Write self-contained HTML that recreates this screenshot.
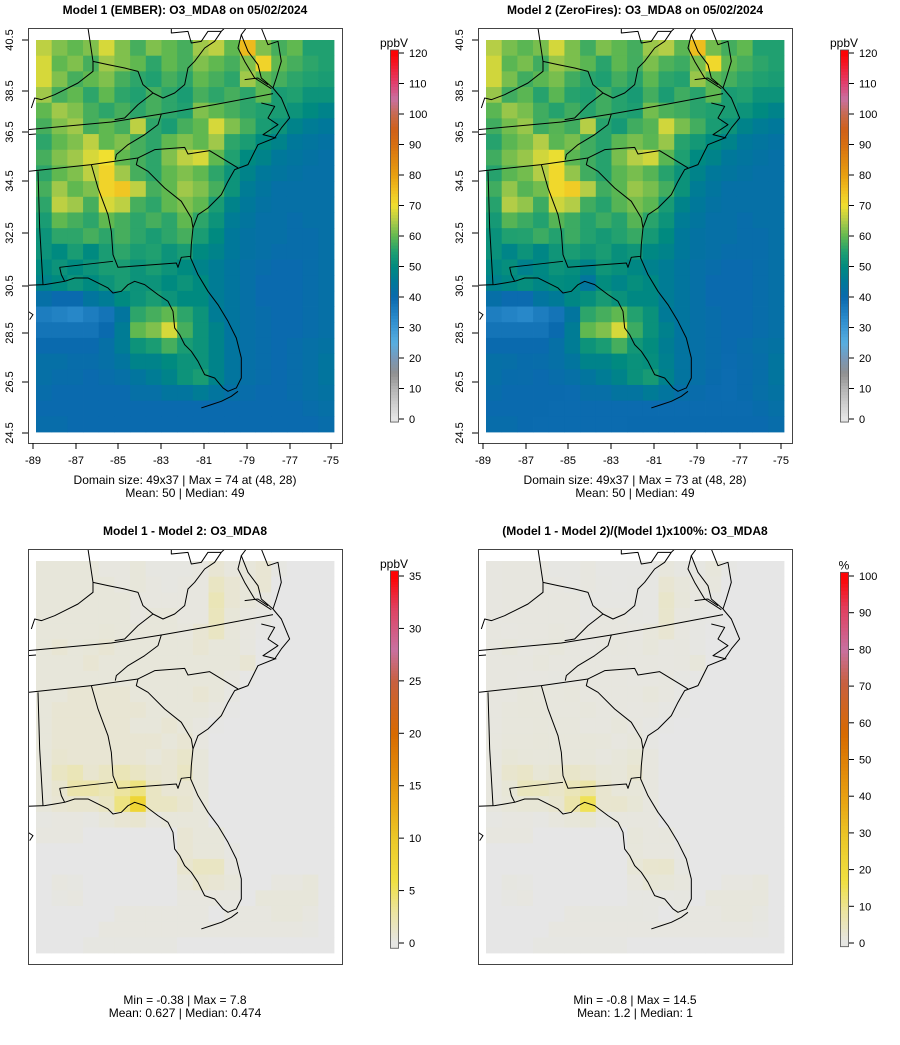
<!DOCTYPE html>
<html><head><meta charset="utf-8">
<style>
html,body{margin:0;padding:0;background:#fff;}
svg{display:block;font-family:"Liberation Sans",sans-serif;}
</style></head>
<body>
<svg id="root" width="900" height="1045" viewBox="0 0 900 1045" xmlns="http://www.w3.org/2000/svg"></svg>
<script>
// ===== data (25 rows x 19 cols, north to south, west to east) =====
const model1Rows = [
[66,62,60,62,68,62,58,62,60,58,64,66,60,76,62,58,60,55,55],
[68,60,62,58,64,62,60,56,60,58,62,60,58,62,72,60,58,56,55],
[68,62,58,60,62,58,56,55,58,56,60,58,56,64,60,58,56,55,54],
[64,58,60,56,60,56,55,58,56,54,58,56,58,56,60,54,55,52,52],
[60,64,62,58,56,58,56,58,56,55,62,60,58,56,55,54,52,50,48],
[58,62,64,58,60,58,66,56,54,58,60,68,62,58,54,52,48,46,45],
[56,60,62,66,60,62,58,56,60,62,60,64,56,54,50,48,45,44,43],
[58,62,64,68,70,60,58,56,62,66,68,60,55,50,48,45,44,43,42],
[56,60,62,66,72,64,58,56,60,62,60,56,52,48,45,44,43,42,42],
[58,64,60,62,72,74,66,58,60,64,62,58,52,46,44,42,42,42,42],
[56,66,64,58,68,66,58,56,60,62,60,54,48,45,43,42,42,42,42],
[54,60,58,56,60,58,56,58,56,60,56,52,46,44,42,42,41,42,42],
[52,56,56,58,56,58,56,54,56,58,54,50,45,43,42,42,41,41,42],
[52,50,54,50,54,56,54,55,52,54,50,48,45,43,42,41,41,41,42],
[50,52,50,52,54,54,52,54,52,50,48,46,44,42,41,40,40,41,42],
[48,50,52,50,52,54,52,52,50,52,50,46,44,42,40,40,40,41,42],
[42,40,40,44,46,50,52,54,52,50,50,46,44,42,40,40,40,41,42],
[36,35,34,36,38,44,56,58,60,56,52,46,44,42,41,40,40,41,42],
[38,38,38,38,40,46,60,62,68,58,52,48,44,42,41,40,40,41,42],
[40,40,40,40,42,46,52,54,58,54,52,48,44,42,41,40,41,42,43],
[42,42,41,41,42,44,48,48,50,52,52,48,44,42,41,40,41,42,44],
[42,41,41,40,41,42,44,46,48,52,54,48,44,42,41,40,41,42,44],
[41,40,40,40,40,40,42,42,44,44,46,44,42,41,40,40,41,42,43],
[40,40,40,40,40,40,40,40,40,40,40,40,40,40,40,40,40,41,42],
[41,41,40,40,40,40,40,40,40,40,40,40,40,40,40,40,40,40,41]
];
const diffRows = [
[.5,.5,.5,.5,.3,.3,.5,.2,.2,.2,.3,.8,.4,.5,.8,.2,0,0,0],
[.5,.5,.5,.5,.5,.3,.5,.3,.2,.3,.3,1.5,.8,.5,.8,0,0,0,0],
[.5,.5,.5,.5,.5,.5,.3,.3,.3,.3,.3,2,.8,.5,.3,0,0,0,0],
[.5,.5,.5,.5,.5,.5,.3,.5,.5,.3,.3,1.8,.6,.3,.2,0,0,0,0],
[.5,.5,.5,.5,.6,.5,.5,.5,.5,.4,.8,1.5,.5,.3,.1,0,0,0,0],
[.5,.8,.5,.6,.8,.5,.5,.5,.5,.5,.8,.5,.5,.3,0,0,0,0,0],
[.5,.5,.5,.8,.5,.5,.5,.5,.5,.5,.5,.5,.5,.8,0,0,0,0,0],
[.5,.5,.5,.5,.5,.5,.5,.5,.5,.5,.5,.5,.3,.1,0,0,0,0,0],
[.5,.5,.8,.8,.8,.8,.5,.5,.5,.5,.8,.5,.2,0,0,0,0,0,0],
[.5,.8,.8,.8,.8,.8,.8,.5,.5,.5,.5,.3,.1,0,0,0,0,0,0],
[.5,.8,.8,.8,.8,.8,.5,.5,.8,.5,.3,.1,0,0,0,0,0,0,0],
[.5,.8,.8,.8,.8,.8,.8,.8,.5,.8,.3,0,0,0,0,0,0,0,0],
[.5,1,.8,.8,.8,.8,.8,.5,.8,1.2,.5,0,0,0,0,0,0,0,0],
[.5,1.5,2,1,1.5,2,1.5,1,.8,1.5,.5,0,0,0,0,0,0,0,0],
[.5,1,2.5,2.5,2,3,4,1.5,.8,.8,.5,0,0,0,0,0,0,0,0],
[.5,.8,1,1,1.5,4,7.8,1.5,1.5,1,.5,0,0,0,0,0,0,0,0],
[.2,.3,.3,.2,.5,.8,1,.3,.5,.5,.5,0,0,0,0,0,0,0,0],
[.3,.3,.3,0,0,0,0,0,0,.8,.5,.5,0,0,0,0,0,0,0],
[0,0,0,0,0,0,0,0,0,.8,.5,.5,.2,0,0,0,0,0,0],
[0,0,0,0,0,0,0,0,0,1,1.5,1.5,.3,0,0,0,0,0,0],
[0,.3,.2,0,0,0,0,0,0,.5,1,.8,.5,0,0,.3,.3,.5,0],
[0,.2,.3,0,0,0,0,0,0,.3,.3,.3,.3,0,.5,.5,.5,.5,0],
[0,0,0,0,0,.3,.3,.3,.3,.3,.3,0,.3,.3,.3,.5,.5,.3,0],
[0,0,0,0,.3,.3,.3,.3,.3,.3,.3,.3,.3,.3,.3,.3,.3,.2,0],
[0,0,0,.2,.2,.2,.2,.2,.2,0,0,0,0,0,0,0,0,0,0]
];
const lonTicks = ["-89","-87","-85","-83","-81","-79","-77","-75"];
const latTicks = ["40.5","38.5","36.5","34.5","32.5","30.5","28.5","26.5","24.5"];
const concTicks = [0,10,20,30,40,50,60,70,80,90,100,110,120];
const diffTicks = [0,5,10,15,20,25,30,35];
const pctTicks = [0,10,20,30,40,50,60,70,80,90,100];

// derived fields
const model2Rows = model1Rows.map((r,i)=>r.map((v,j)=>v - diffRows[i][j]));
const pctRows = model1Rows.map((r,i)=>r.map((v,j)=>diffRows[i][j]/v*100));

// ===== helpers =====
const NS="http://www.w3.org/2000/svg";
const root=document.getElementById('root');
function mk(tag,attrs,parent){const e=document.createElementNS(NS,tag);for(const k in attrs)e.setAttribute(k,attrs[k]);(parent||root).appendChild(e);return e;}
function hex(c){return [parseInt(c.slice(1,3),16),parseInt(c.slice(3,5),16),parseInt(c.slice(5,7),16)];}
function ramp(stops){return v=>{if(v<=stops[0][0])return stops[0][1];for(let i=1;i<stops.length;i++){if(v<=stops[i][0]){const a=stops[i-1],b=stops[i];const t=(v-a[0])/(b[0]-a[0]);const ca=hex(a[1]),cb=hex(b[1]);return 'rgb('+ca.map((x,k)=>Math.round(x+(cb[k]-x)*t)).join(',')+')';}}return stops[stops.length-1][1];};}
const concColor=ramp([[0,'#e6e6e6'],[10,'#b4b4b4'],[15,'#909090'],[20,'#7898b8'],[25,'#58aee0'],[32,'#3090d0'],[40,'#0a6aae'],[45,'#00789a'],[50,'#008a80'],[55,'#20a070'],[60,'#60b850'],[65,'#b0cc48'],[70,'#f0e030'],[75,'#f0c020'],[80,'#e8a010'],[90,'#d87010'],[95,'#d06018'],[100,'#c86a50'],[105,'#c870a0'],[110,'#e04070'],[120,'#ff0000']]);
const diffColor=ramp([[0,'#e6e6e6'],[3,'#ece4a0'],[6,'#f0e040'],[10,'#ecc828'],[14,'#e8a010'],[20,'#d86a00'],[25,'#c86040'],[28,'#c870a0'],[32,'#e04060'],[35,'#ff0000']]);
const pctColor=ramp([[0,'#e6e6e6'],[8.6,'#ece4a0'],[17,'#f0e040'],[28.6,'#ecc828'],[40,'#e8a010'],[57,'#d86a00'],[71,'#c86040'],[80,'#c870a0'],[91,'#e04060'],[100,'#ff0000']]);

const outlines=[
"M0,772 L50,770 80,765 110,760 140,750 180,750 210,765 240,780 255,795 280,790 300,770 320,760 350,770 390,800 420,820 435,850 440,900 455,920 470,950 490,970 510,1000 530,1040 560,1050 585,1080 600,1090 625,1080 640,1050 640,990 625,930 600,880 570,830 540,790 510,740 488,690 490,650 495,600 510,560 540,540 580,500 600,460 620,425 660,410 690,350 740,330 760,300 785,270 760,210 735,180",
"M735,180 L700,150 690,110 660,70 640,20 655,0","M730,182 L680,150 650,100 630,60 640,20","M700,0 L720,50 750,40 760,100 745,150 735,180",
"M650,155 L690,150 720,170","M700,225 L740,235 720,270 750,290 705,320 745,330","M520,1140 L550,1130 580,1120 610,1105 630,1090",
"M0,305 L250,282 400,258 560,230 735,197","M0,430 L190,410 330,390","M330,390 L380,365 470,358 480,378 545,368 630,420",
"M330,390 L325,410 360,430 410,480 460,520 490,570 495,600",
"M190,410 L210,480 240,560 250,610 255,680 270,718 445,705 450,718 460,688 488,685",
"M95,718 L255,700","M95,718 L100,740 110,760","M30,430 L35,600 45,770",
"M180,0 L195,100 195,130 150,165 110,185 80,200 40,215 20,210 10,240",
"M195,100 L240,110 290,120 330,130 345,170 375,195 405,210 440,195 470,170 480,120 500,100 530,60 560,40 580,10 590,0",
"M375,195 L330,230 290,270 260,275","M400,258 L390,290 350,320 300,350 265,380 262,395",
"M430,0 L430,15 480,10 490,45 520,40 540,10 580,10","M0,320 L24,318","M0,850 L15,860 5,875"
];
const latPos=[40,91,132,181,233,286,333,382,433];
const lonPos=[33,76,118,161,204,247,290,331];

function panel(o){
  const g=mk('g',{});
  const t=mk('text',{x:o.bx+157,y:o.by-14,'text-anchor':'middle','font-size':12,'font-weight':'bold',fill:'#000'},g);
  t.textContent=o.title;
  
  
  const cid='clip'+o.id;
  const cp=mk('clipPath',{id:cid},g);mk('rect',{x:o.bx,y:o.by,width:314,height:415},cp);
  const rg=mk('g',{'clip-path':'url(#'+cid+')'},g);
  
  
  const rows=o.data.length,cols=o.data[0].length,rx=o.bx+8,ry=o.by+12,cw=298/cols,ch=392/rows;
  for(let i=0;i<rows;i++)for(let j=0;j<cols;j++){
    const r=mk('rect',{x:(rx+j*cw).toFixed(2),y:(ry+i*ch).toFixed(2),width:(cw+0.4).toFixed(2),height:(ch+0.4).toFixed(2),fill:o.color(o.data[i][j])},rg);
    
    
  }
  const og=mk('g',{transform:'translate('+o.bx+','+o.by+') scale(0.3333)',fill:'none',stroke:'#000','stroke-width':3,'stroke-linejoin':'round'},rg);
  
  
  outlines.forEach(d=>mk('path',{d:d},og));
  const box=mk('rect',{x:o.bx+0.5,y:o.by+0.5,width:314,height:415,fill:'none',stroke:'#444','stroke-width':1},g);
  
  
  if(o.axes){
    latTicks.forEach((lab,k)=>{const y=latPos[k];mk('line',{x1:o.bx-6,x2:o.bx,y1:y,y2:y,stroke:'#000'},g);
      const tx=mk('text',{x:o.bx-15,y:y,'font-size':11,'text-anchor':'middle',transform:'rotate(-90 '+(o.bx-15)+' '+y+')',fill:'#000'},g);tx.textContent=lab;
      
      });
    lonTicks.forEach((lab,k)=>{const x=o.bx-28+lonPos[k];mk('line',{x1:x,x2:x,y1:o.by+415,y2:o.by+421,stroke:'#000'},g);
      const tx=mk('text',{x:x,y:o.by+436,'font-size':11,'text-anchor':'middle',fill:'#000'},g);tx.textContent=lab;
      
      });
  }
  o.captions.forEach((c,k)=>{const tx=mk('text',{x:o.bx+157,y:o.capY+k*13,'font-size':12,'text-anchor':'middle',fill:'#000'},g);tx.textContent=c;
    
    });
  // colorbar
  const cb=mk('g',{},g);
  
  
  const vmax=o.ticks[o.ticks.length-1],y0=o.cb0,y1=o.cbTop;
  const yOf=v=>y0-(v/vmax)*(y0-y1);
  const n=vmax>50?vmax:vmax*4, step=vmax/n;
  const half=(y0-y1)/(o.ticks.length-1)*0.1;
  for(let k=0;k<n;k++){const v0=k*step,v1=(k+1)*step;
    const top=Math.min(yOf(v1),yOf(v0)), bot=yOf(v0);
    mk('rect',{x:o.cbx,y:(k==n-1?top-half:top).toFixed(2),width:9,height:(bot-top+(k==0?half:0)+(k==n-1?half:0)+0.5).toFixed(2),fill:o.color(v0+step/2)},cb);}
  mk('rect',{x:o.cbx+0.5,y:y1-half,width:8,height:y0-y1+2*half,fill:'none',stroke:'#555','stroke-width':0.8},cb);
  o.ticks.forEach(v=>{const y=yOf(v);mk('line',{x1:o.cbx+9,x2:o.cbx+14,y1:y,y2:y,stroke:'#000'},cb);
    const tx=mk('text',{x:o.cbx+19,y:y+4,'font-size':11,fill:'#000'},cb);tx.textContent=v;
    
    });
  const ut=mk('text',{x:o.cbx+4,y:y1-half-3,'font-size':12,'text-anchor':'middle',fill:'#000'},cb);ut.textContent=o.unit;
  
  
}
panel({id:1,name:'panel-model1',bx:28,by:28,title:'Model 1 (EMBER): O3_MDA8 on 05/02/2024',data:model1Rows,color:concColor,axes:true,
  captions:['Domain size: 49x37 | Max = 74 at (48, 28)','Mean: 50 |  Median: 49'],capY:484,cbx:390,cb0:419,cbTop:53,ticks:concTicks,unit:'ppbV'});
panel({id:2,name:'panel-model2',bx:478,by:28,title:'Model 2 (ZeroFires): O3_MDA8 on 05/02/2024',data:model2Rows,color:concColor,axes:true,
  captions:['Domain size: 49x37 | Max = 73 at (48, 28)','Mean: 50 |  Median: 49'],capY:484,cbx:840,cb0:419,cbTop:53,ticks:concTicks,unit:'ppbV'});
panel({id:3,name:'panel-difference',bx:28,by:549,title:'Model 1 - Model 2: O3_MDA8',data:diffRows,color:diffColor,axes:false,
  captions:['Min = -0.38 | Max = 7.8','Mean: 0.627 |  Median: 0.474'],capY:1004,cbx:390,cb0:943,cbTop:576,ticks:diffTicks,unit:'ppbV'});
panel({id:4,name:'panel-percent-difference',bx:478,by:549,title:'(Model 1 - Model 2)/(Model 1)x100%: O3_MDA8',data:pctRows,color:pctColor,axes:false,
  captions:['Min = -0.8 | Max = 14.5','Mean: 1.2 |  Median: 1'],capY:1004,cbx:840,cb0:943,cbTop:576,ticks:pctTicks,unit:'%'});
</script>
</body></html>
